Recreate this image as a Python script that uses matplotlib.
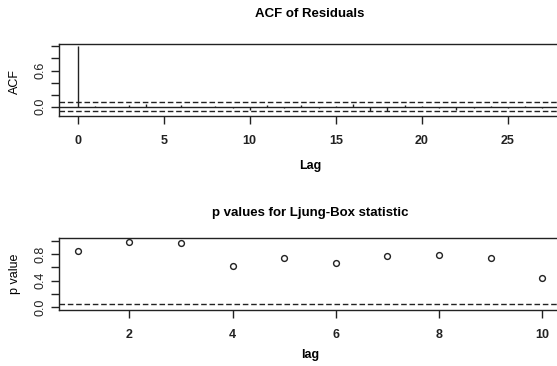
import numpy as np
import matplotlib
matplotlib.use('Agg')
import matplotlib.pyplot as plt

plt.rcParams['font.family'] = ['Liberation Sans', 'DejaVu Sans']

# ACF of residuals (lags 0..27)
acf_lags = list(range(28))
acf_vals = [1.0, 0.01, -0.01, 0.03, 0.05, -0.01, 0.03, 0.0, 0.01, -0.03,
            -0.06, 0.02, -0.02, 0.03, -0.02, 0.01, 0.04, -0.07, -0.07, 0.03,
            0.01, -0.02, -0.06, -0.02, 0.01, -0.03, 0.01, -0.03]
conf = 0.078

# Ljung-Box p values (lags 1..10)
lb_lags = list(range(1, 11))
lb_pvals = [0.85, 0.98, 0.97, 0.62, 0.74, 0.67, 0.77, 0.78, 0.74, 0.44]

W, H = 557, 366
fig = plt.figure(figsize=(W / 100, H / 100), dpi=100)

def box(left, top, right, bottom):
    return [left / W, 1 - bottom / H, (right - left) / W, (bottom - top) / H]

def style(ax):
    for s in ax.spines.values():
        s.set_linewidth(1.0)
        s.set_color('#222222')
    ax.tick_params(direction='out', length=6, width=1.0, colors='#222222')
    ax.tick_params(axis='x', pad=8, labelsize=9)
    ax.tick_params(axis='y', pad=3, labelsize=9)
    for lab in ax.get_xticklabels():
        lab.set_fontweight('bold')
    for lab in ax.get_yticklabels():
        lab.set_rotation(90)
        lab.set_va('center')

# top: ACF
ax1 = fig.add_axes(box(59, 44, 561, 116))
ax1.vlines(acf_lags, 0, acf_vals, color='#222222', linewidth=1.0)
ax1.axhline(0, color='#222222', linewidth=1.0)
ax1.axhline(conf, color='#222222', linestyle=(0, (4, 2)), linewidth=1.0)
ax1.axhline(-conf, color='#222222', linestyle=(0, (4, 2)), linewidth=1.0)
ax1.set_xlim(-1.08, 28.08)
ax1.set_ylim(-0.155, 1.04)
ax1.set_xticks([0, 5, 10, 15, 20, 25])
ax1.set_yticks([0.0, 0.2, 0.4, 0.6, 0.8, 1.0])
ax1.set_yticklabels(['0.0', '', '', '0.6', '', ''])
style(ax1)

# bottom: p values
ax2 = fig.add_axes(box(59, 238, 561, 310))
ax2.plot(lb_lags, lb_pvals, 'o', markersize=4.2, markerfacecolor='none',
         markeredgecolor='#222222', markeredgewidth=1.0)
ax2.axhline(0.05, color='#222222', linestyle=(0, (4, 2)), linewidth=1.0)
ax2.set_xlim(0.64, 10.36)
ax2.set_ylim(-0.04, 1.04)
ax2.set_xticks([2, 4, 6, 8, 10])
ax2.set_yticks([0.0, 0.2, 0.4, 0.6, 0.8, 1.0])
ax2.set_yticklabels(['0.0', '', '0.4', '', '0.8', ''])
style(ax2)

# titles and labels
fig.text(310 / W, 1 - 14 / H, 'ACF of Residuals', ha='center', va='center',
         fontsize=9.5, fontweight='bold')
fig.text(310 / W, 1 - 213 / H, 'p values for Ljung-Box statistic', ha='center',
         va='center', fontsize=9.5, fontweight='bold')
fig.text(310 / W, 1 - 166 / H, 'Lag', ha='center', va='center', fontsize=9,
         fontweight='bold')
fig.text(310 / W, 1 - 355 / H, 'lag', ha='center', va='center', fontsize=9,
         fontweight='bold')
fig.text(15 / W, 1 - 82 / H, 'ACF', ha='center', va='center', fontsize=9,
         rotation=90)
fig.text(15 / W, 1 - 274 / H, 'p value', ha='center', va='center', fontsize=9,
         rotation=90)

fig.savefig('out.png', dpi=100)
